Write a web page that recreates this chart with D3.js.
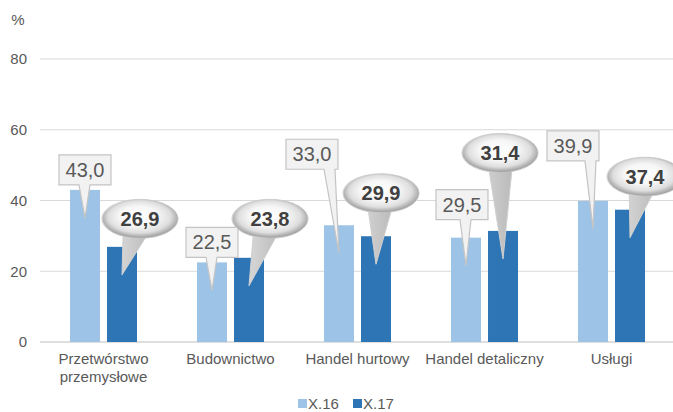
<!DOCTYPE html>
<html>
<head>
<meta charset="utf-8">
<script src="https://cdn.jsdelivr.net/npm/d3@7"></script>
<style>
  body { margin: 0; background: #fff; }
  text { font-family: 'Liberation Sans', Arial, sans-serif; }
</style>
</head>
<body>
<div id="chart"></div>
<script>
const categories = ['Przetwórstwo\nprzemysłowe', 'Budownictwo', 'Handel hurtowy', 'Handel detaliczny', 'Usługi']
const seriesNames = ['X.16', 'X.17']
const x16 = [43.0, 22.5, 33.0, 29.5, 39.9]
const x17 = [26.9, 23.8, 29.9, 31.4, 37.4]
const yTicks = [0, 20, 40, 60, 80]

// where each callout sits, relative to the top of its bar
const boxOffsets = [[0, -20], [0, -20], [-27, -71], [-4, -33], [-20, -55]]
const bubbleOffsets = [[18, -28], [21, -39], [5, -43], [-3, -78], [15, -33]]

const width = 673
const height = 412
const colors = { 'X.16': '#9dc3e6', 'X.17': '#2e75b6' }

const svg = d3
  .select('#chart')
  .append('svg')
  .attr('width', width)
  .attr('height', height)

const y = d3.scaleLinear().domain([0, 80]).range([342, 59])

const x0 = d3.scaleBand().domain(categories).range([40, 675])

const x1 = d3
  .scaleBand()
  .domain(seriesNames)
  .range([0, x0.bandwidth()])
  .paddingInner(0.19)
  .paddingOuter(0.81)

// gridlines
svg
  .selectAll('.grid')
  .data(yTicks)
  .enter()
  .append('line')
  .attr('x1', 40)
  .attr('x2', width)
  .attr('y1', d => y(d))
  .attr('y2', d => y(d))
  .attr('stroke', d => (d === 0 ? '#bfbfbf' : '#d9d9d9'))
  .attr('stroke-width', 1)

const yAxis = svg
  .append('g')
  .attr('transform', 'translate(40,0)')
  .call(d3.axisLeft(y).tickValues(yTicks).tickSize(0).tickPadding(13))
yAxis.select('.domain').remove()
yAxis
  .selectAll('text')
  .attr('font-size', 15)
  .attr('fill', '#595959')
  .attr('font-family', 'Liberation Sans, Arial, sans-serif')

svg
  .append('text')
  .attr('x', 18)
  .attr('y', 25)
  .attr('text-anchor', 'middle')
  .attr('font-size', 15)
  .attr('fill', '#595959')
  .text('%')

const rows = categories.map((c, i) => ({ cat: c, i: i, vals: [x16[i], x17[i]] }))

const groups = svg
  .selectAll('.cat')
  .data(rows)
  .enter()
  .append('g')
  .attr('class', 'cat')
  .attr('transform', d => 'translate(' + x0(d.cat) + ',0)')

groups
  .selectAll('rect')
  .data(d => d.vals.map((v, j) => ({ s: seriesNames[j], v: v })))
  .enter()
  .append('rect')
  .attr('x', d => x1(d.s))
  .attr('width', x1.bandwidth())
  .attr('y', d => y(d.v))
  .attr('height', d => y(0) - y(d.v))
  .attr('fill', d => colors[d.s])

// category labels
const catLabels = svg
  .selectAll('.cat-label')
  .data(categories)
  .enter()
  .append('text')
  .attr('class', 'cat-label')
  .attr('x', d => x0(d) + x0.bandwidth() / 2)
  .attr('y', 364)
  .attr('text-anchor', 'middle')
  .attr('font-size', 15)
  .attr('fill', '#595959')

catLabels
  .selectAll('tspan')
  .data(d => d.split('\n'))
  .enter()
  .append('tspan')
  .attr('x', function() {
    return d3.select(this.parentNode).attr('x')
  })
  .attr('dy', (d, i) => (i === 0 ? 0 : 18))
  .text(d => d)

const fmt = v => v.toFixed(1).replace('.', ',')
const defs = svg.append('defs')
const tipDrop = 28

// light-to-dark shading for the balloon tails
const tailGrad = defs
  .append('linearGradient')
  .attr('id', 'tail')
  .attr('x1', 0)
  .attr('x2', 1)
  .attr('y1', 0)
  .attr('y2', 0)
tailGrad.append('stop').attr('offset', 0).attr('stop-color', '#e6e6e6')
tailGrad.append('stop').attr('offset', 0.5).attr('stop-color', '#c4c4c4')
tailGrad.append('stop').attr('offset', 1).attr('stop-color', '#a6a6a6')

// rectangular callouts for X.16
x16.forEach((v, i) => {
  const bx = x0(categories[i]) + x1('X.16') + x1.bandwidth() / 2
  const by = y(v)
  const cx = bx + boxOffsets[i][0]
  const cy = by + boxOffsets[i][1]
  const w = 52
  const h = 30
  const x0b = cx - w / 2
  const x1b = cx + w / 2
  const y0b = cy - h / 2
  const y1b = cy + h / 2
  const tx = bx
  const ty = by + tipDrop
  const base = Math.max(x0b + 4, Math.min(x1b - 14, tx - 6))
  const p =
    'M' + x0b + ',' + y0b + 'H' + x1b + 'V' + y1b + 'H' + (base + 11) +
    'L' + tx + ',' + ty + 'L' + base + ',' + y1b + 'H' + x0b + 'Z'
  svg
    .append('path')
    .attr('d', p)
    .attr('fill', '#f2f2f2')
    .attr('stroke', '#c4c4c4')
    .attr('stroke-width', 1.2)
  svg
    .append('text')
    .attr('x', cx)
    .attr('y', cy + 7)
    .attr('text-anchor', 'middle')
    .attr('font-size', 20)
    .attr('fill', '#595959')
    .text(fmt(v))
})

// balloon callouts for X.17
x17.forEach((v, i) => {
  const bx = x0(categories[i]) + x1('X.17') + x1.bandwidth() / 2
  const by = y(v)
  const cx = bx + bubbleOffsets[i][0]
  const cy = by + bubbleOffsets[i][1]
  const rx = 38
  const ry = 19.5
  const tx = bx
  const ty = by + tipDrop
  const th = Math.atan2((ty - cy) / ry, (tx - cx) / rx)
  const a1 = th - 0.3
  const a2 = th + 0.3
  const pt = a => [cx + rx * Math.cos(a), cy + ry * Math.sin(a)]
  const p1 = pt(a1)
  const p2 = pt(a2)

  const gid = 'bub' + i
  defs
    .append('radialGradient')
    .attr('id', gid)
    .attr('gradientUnits', 'userSpaceOnUse')
    .attr('cx', cx)
    .attr('cy', cy - 3)
    .attr('fx', cx - 3)
    .attr('fy', cy - 7)
    .attr('r', rx + 1)
    .attr('gradientTransform', 'translate(' + cx + ',' + cy + ') scale(1,' + ry / rx + ') translate(' + -cx + ',' + -cy + ')')
    .selectAll('stop')
    .data([[0, '#ffffff'], [0.5, '#f6f6f6'], [0.8, '#dedede'], [1, '#a4a4a4']])
    .enter()
    .append('stop')
    .attr('offset', d => d[0])
    .attr('stop-color', d => d[1])

  const p = 'M' + p2[0] + ',' + p2[1] + 'A' + rx + ',' + ry + ' 0 1 1 ' + p1[0] + ',' + p1[1] + 'L' + tx + ',' + ty + 'Z'
  svg
    .append('path')
    .attr('d', p)
    .attr('fill', 'url(#tail)')
    .attr('stroke', '#cfcfcf')
    .attr('stroke-width', 1)
  svg
    .append('ellipse')
    .attr('cx', cx)
    .attr('cy', cy)
    .attr('rx', rx - 0.5)
    .attr('ry', ry - 0.5)
    .attr('fill', 'url(#' + gid + ')')
  svg
    .append('text')
    .attr('x', cx)
    .attr('y', cy + 7)
    .attr('text-anchor', 'middle')
    .attr('font-size', 20)
    .attr('font-weight', 700)
    .attr('fill', '#404040')
    .text(fmt(v))
})

// legend
const legend = svg
  .append('g')
  .selectAll('g')
  .data(seriesNames)
  .enter()
  .append('g')
  .attr('transform', (d, i) => 'translate(' + (298 + i * 55) + ',399)')

legend
  .append('rect')
  .attr('width', 9)
  .attr('height', 9)
  .attr('fill', d => colors[d])

legend
  .append('text')
  .attr('x', 10)
  .attr('y', 10)
  .attr('font-size', 15)
  .attr('fill', '#595959')
  .text(d => d)
</script>
</body>
</html>
